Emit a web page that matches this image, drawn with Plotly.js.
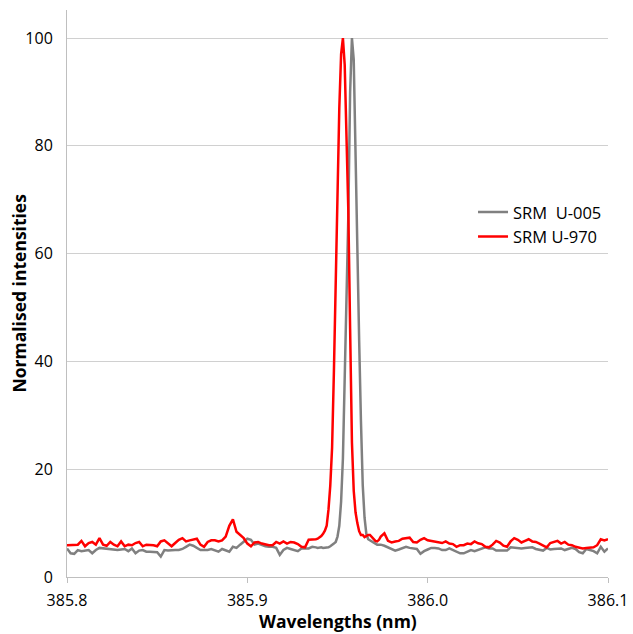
<!DOCTYPE html>
<html>
<head>
<meta charset="utf-8">
<script src="https://cdn.plot.ly/plotly-3.0.1.min.js"></script>
<style>html,body{margin:0;padding:0;background:#fff;}#chart{width:633px;height:634px;}</style>
</head>
<body>
<div id="chart"></div>
<script>
// Wavelengths (nm) sampled along the spectrum
const wavelengths = [
  385.800,385.802,385.804,385.806,385.808,385.810,385.812,385.814,385.816,385.818,
  385.820,385.822,385.824,385.826,385.828,385.830,385.832,385.834,385.836,385.838,
  385.840,385.842,385.844,385.846,385.848,385.850,385.852,385.854,385.856,385.858,
  385.860,385.862,385.864,385.866,385.868,385.870,385.872,385.874,385.876,385.878,
  385.880,385.882,385.884,385.886,385.888,385.890,385.892,385.894,385.896,385.898,
  385.900,385.902,385.904,385.906,385.908,385.910,385.912,385.914,385.916,385.918,
  385.920,385.922,385.924,385.926,385.928,385.930,385.932,385.934,385.936,
  385.937,385.938,385.939,385.940,385.941,385.942,385.943,385.944,385.945,385.946,
  385.947,385.948,385.949,385.950,385.951,385.952,385.953,385.954,385.955,385.956,
  385.957,385.958,385.959,385.960,385.961,385.962,385.963,385.964,385.965,385.966,
  385.967,385.968,385.969,385.970,385.971,385.972,385.973,385.974,
  385.976,385.978,385.980,385.982,385.984,385.986,385.988,385.990,385.992,385.994,
  385.996,385.998,386.000,386.002,386.004,386.006,386.008,386.010,386.012,386.014,
  386.016,386.018,386.020,386.022,386.024,386.026,386.028,386.030,386.032,386.034,
  386.036,386.038,386.040,386.042,386.044,386.046,386.048,386.050,386.052,386.054,
  386.056,386.058,386.060,386.062,386.064,386.066,386.068,386.070,386.072,386.074,
  386.076,386.078,386.080,386.082,386.084,386.086,386.088,386.090,386.092,386.094,
  386.096,386.098,386.100
];

// SRM U-005 (grey)
const srmU005 = [
  5.3,4.4,4.3,5.0,4.8,4.9,5.0,4.4,5.0,5.4,
  5.3,5.2,5.2,5.0,5.0,5.1,5.2,4.8,5.3,4.4,
  4.9,5.0,4.7,4.7,4.7,4.6,3.8,5.0,4.9,5.0,
  5.0,5.0,5.2,5.6,6.0,5.8,5.4,5.0,5.0,5.0,
  5.2,5.0,4.7,5.2,5.0,4.7,5.6,5.4,6.0,6.6,
  7.1,6.9,6.0,6.2,5.9,5.7,5.6,5.6,5.4,4.1,
  5.0,5.4,5.2,5.0,4.8,5.3,5.3,5.3,5.6,
  5.6,5.5,5.4,5.5,5.5,5.4,5.4,5.4,5.5,5.7,
  5.9,6.2,6.5,7.5,9.5,14,22,37,52,67,
  90,100,96,76,59,44,29,17,11,8,
  7.0,6.8,6.5,6.3,6.1,6.0,6.0,6.0,
  5.8,5.5,5.1,4.9,5.1,5.4,5.6,5.4,5.3,5.2,
  4.3,4.8,5.1,5.4,5.4,5.3,5.0,5.0,5.3,5.0,
  4.7,4.4,4.4,4.7,5.0,4.8,5.0,5.3,5.5,5.3,
  5.3,4.9,4.9,5.0,4.9,5.5,5.4,5.3,5.3,5.4,
  5.4,5.5,5.2,5.0,4.9,5.4,5.1,5.2,5.3,5.3,
  5.0,5.2,5.4,5.2,4.6,4.4,5.2,5.0,4.8,4.4,
  5.6,4.7,5.3
];

// SRM U-970 (red)
const srmU970 = [
  5.9,5.9,6.0,6.0,6.7,5.7,6.3,6.5,6.0,7.2,
  6.0,5.8,6.5,6.0,5.7,6.6,5.7,6.0,5.9,6.3,
  6.5,5.7,6.0,6.0,5.9,5.7,6.6,6.8,6.3,5.7,
  6.3,6.9,7.2,6.6,6.8,6.9,7.1,6.0,5.6,6.5,
  6.8,6.8,6.6,6.8,7.5,9.5,10.7,8.4,7.7,7.2,
  6.2,5.7,6.4,6.5,6.2,6.0,5.9,5.9,6.5,6.2,
  6.6,6.2,6.5,6.4,6.1,5.6,5.5,6.9,6.9,
  6.9,7.0,7.1,7.3,7.6,8.0,8.6,9.5,12.5,17,
  24,38,56,72,87,97,100,95,83,68,
  46,25,16,12,10,8.5,7.8,7.8,7.4,7.6,
  7.8,7.8,7.4,7.0,6.7,6.6,6.9,7.5,
  8.1,6.7,6.4,6.6,6.7,7.1,7.2,7.3,6.5,6.4,
  6.9,7.2,6.8,6.7,6.5,6.5,6.3,6.6,6.2,6.1,
  5.6,5.9,5.9,6.2,6.1,6.6,6.25,6.1,5.6,5.5,
  6.0,6.7,6.4,5.8,5.6,6.6,7.2,6.9,6.4,6.7,
  7.0,6.6,6.5,6.2,5.8,5.5,6.3,6.5,6.7,6.2,
  6.5,6.0,5.9,5.6,5.4,5.3,5.4,5.4,5.5,5.9,
  7.0,6.8,7.0
];

const seriesNames = ['SRM\u00a0\u00a0U-005', 'SRM U-970'];
const xTickVals = [385.8, 385.9, 386.0, 386.1];
const xTickText = ['385.8', '385.9', '386.0', '386.1'];
const yTickVals = [0, 20, 40, 60, 80, 100];
const xTitle = 'Wavelengths (nm)';
const yTitle = 'Normalised intensities';

const font = 'Open Sans, Noto Sans, sans-serif';

const traces = [
  {x: wavelengths, y: srmU005, type: 'scatter', mode: 'lines', name: seriesNames[0],
   line: {color: '#808080', width: 2.5}},
  {x: wavelengths, y: srmU970, type: 'scatter', mode: 'lines', name: seriesNames[1],
   line: {color: '#ff0000', width: 2.5}}
];

const layout = {
  width: 633, height: 634,
  margin: {l: 67, r: 25, t: 10, b: 57},
  paper_bgcolor: '#fff', plot_bgcolor: '#fff',
  font: {family: font, size: 15, color: '#000'},
  showlegend: true,
  legend: {x: 0.7505, y: 0.674, xanchor: 'left', yanchor: 'top',
           bgcolor: 'rgba(0,0,0,0)', font: {family: font, size: 16.5, color: '#000'},
           tracegroupgap: 0},
  xaxis: {
    range: [385.8, 386.1], tickvals: xTickVals, ticktext: xTickText,
    showgrid: false, zeroline: false, showline: true, linecolor: '#bfbfbf', linewidth: 1,
    ticks: 'outside', ticklen: 5, tickcolor: '#bfbfbf', ticklabelstandoff: 4,
    tickfont: {family: font, size: 16, color: '#000'}
  },
  yaxis: {
    range: [0, 105.2], tickvals: yTickVals,
    showgrid: true, gridcolor: '#d0d0d0', gridwidth: 1, zeroline: false,
    showline: true, linecolor: '#bfbfbf', linewidth: 1,
    ticks: '', ticklabelstandoff: 10,
    tickfont: {family: font, size: 16, color: '#000'}
  },
  annotations: [
    {text: '<b>' + xTitle + '</b>', xref: 'paper', yref: 'paper', x: 0.5, y: 0,
     xanchor: 'center', yanchor: 'middle', yshift: -44, showarrow: false,
     font: {family: font, size: 17.5, color: '#000'}},
    {text: '<b>' + yTitle + '</b>', xref: 'paper', yref: 'paper', x: 0, y: 0.5,
     xanchor: 'center', yanchor: 'middle', xshift: -49, textangle: -90, showarrow: false,
     font: {family: font, size: 17.5, color: '#000'}}
  ]
};

Plotly.newPlot('chart', traces, layout, {displayModeBar: false, responsive: false});
</script>
</body>
</html>
